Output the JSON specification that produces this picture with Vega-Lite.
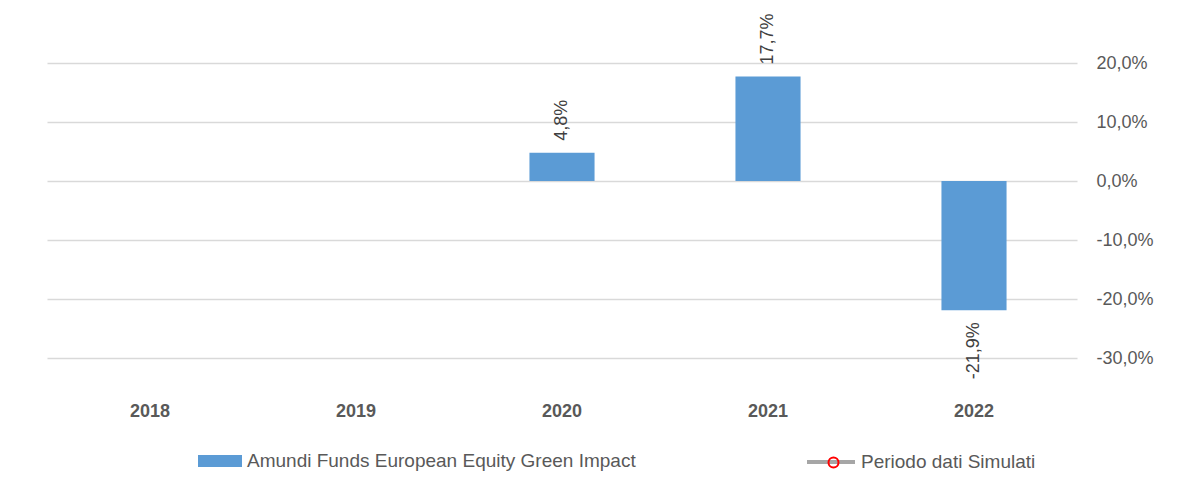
{
  "$schema": "https://vega.github.io/schema/vega-lite/v6.json",
  "width": 1030,
  "height": 295,
  "autosize": {"type": "none"},
  "padding": {"left": 47, "top": 63, "right": 120, "bottom": 119},
  "background": "white",
  "config": {
    "locale": {"number": {"decimal": ",", "thousands": ".", "grouping": [3], "currency": ["€", ""], "minus": "-"}},
    "font": "Liberation Sans",
    "view": {"stroke": null}
  },
  "data": {"values": [
    {"anno": "2018", "rendimento": null, "simulato": null},
    {"anno": "2019", "rendimento": null, "simulato": null},
    {"anno": "2020", "rendimento": 0.048, "simulato": null},
    {"anno": "2021", "rendimento": 0.177, "simulato": null},
    {"anno": "2022", "rendimento": -0.219, "simulato": null}
  ]},
  "encoding": {
    "x": {
      "field": "anno", "type": "nominal",
      "scale": {"domain": ["2018", "2019", "2020", "2021", "2022"], "paddingInner": 0.684, "paddingOuter": 0.342},
      "axis": {"title": null, "labelAngle": 0, "domain": false, "ticks": false, "grid": false, "labelFontWeight": "bold", "labelFontSize": 18, "labelColor": "#595959", "labelPadding": 44}
    },
    "y": {
      "field": "rendimento", "type": "quantitative",
      "scale": {"domain": [-0.3, 0.2], "nice": false, "zero": false},
      "axis": {"title": null, "orient": "right", "values": [-0.3, -0.2, -0.1, 0, 0.1, 0.2], "format": ".1%", "domain": false, "ticks": false, "gridColor": "#D9D9D9", "gridWidth": 1.5, "labelFontSize": 18, "labelColor": "#595959", "labelPadding": 19}
    }
  },
  "layer": [
    {
      "mark": {"type": "bar"},
      "encoding": {
        "fill": {
          "datum": "Amundi Funds European Equity Green Impact",
          "scale": {"domain": ["Amundi Funds European Equity Green Impact"], "range": ["#5B9BD5"]},
          "legend": {"title": null, "orient": "none", "legendX": 151, "legendY": 376, "padding": 0, "symbolType": "M-1,-0.27H1V0.27H-1Z", "symbolSize": 1936, "symbolStrokeWidth": 0, "labelFontSize": 19, "labelColor": "#595959", "labelOffset": 5, "labelLimit": 600}
        }
      }
    },
    {
      "transform": [{"filter": "datum.rendimento > 0"}],
      "mark": {"type": "text", "angle": 270, "align": "left", "baseline": "middle", "dx": 12, "fontSize": 18, "fill": "#404040"},
      "encoding": {"text": {"field": "rendimento", "type": "quantitative", "format": ".1%"}}
    },
    {
      "transform": [{"filter": "datum.rendimento < 0"}],
      "mark": {"type": "text", "angle": 270, "align": "right", "baseline": "middle", "dx": -12, "fontSize": 18, "fill": "#404040"},
      "encoding": {"text": {"field": "rendimento", "type": "quantitative", "format": ".1%"}}
    },
    {
      "transform": [{"filter": "isValid(datum.simulato)"}],
      "mark": {"type": "line"},
      "encoding": {
        "stroke": {
          "datum": "Periodo dati Simulati",
          "scale": {"domain": ["Periodo dati Simulati"], "range": ["#A6A6A6"]},
          "legend": {"title": null, "orient": "none", "legendX": 758, "legendY": 373, "padding": 0, "symbolType": "M-1,0H1", "symbolSize": 2304, "symbolStrokeWidth": 4, "labelFontSize": 19, "labelColor": "#595959", "labelOffset": 4, "labelLimit": 600}
        }
      }
    },
    {
      "transform": [{"filter": "isValid(datum.simulato)"}],
      "mark": {"type": "point"},
      "encoding": {
        "shape": {
          "datum": "Simulati",
          "scale": {"domain": ["Simulati"], "range": ["circle"]},
          "legend": {"title": null, "orient": "none", "legendX": 777, "legendY": 390, "padding": 0, "symbolSize": 100, "symbolFillColor": "#A6A6A6", "symbolStrokeColor": "#FF0000", "symbolStrokeWidth": 2, "symbolOpacity": 1, "labelExpr": "''", "labelFontSize": 19}
        }
      }
    }
  ]
}
